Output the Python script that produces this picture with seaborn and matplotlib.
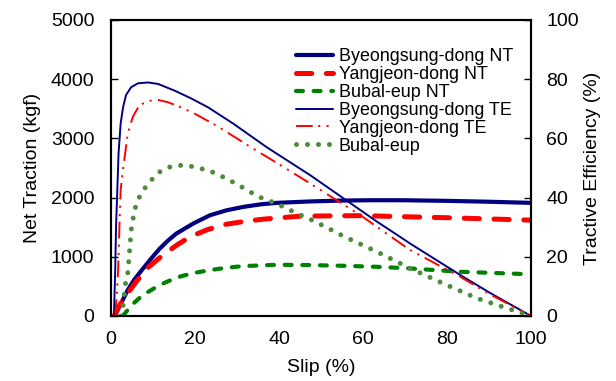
import matplotlib
matplotlib.use("Agg")
import matplotlib.pyplot as plt
import seaborn as sns
import pandas as pd

# ---- data ----
by_nt_slip = [0.9, 2.5, 4.0, 5.5, 7.5, 9.5, 11.5, 13.5, 15.5, 19.6, 23.6, 27.5, 31.5, 35.5,
              39.4, 47.4, 55, 62, 70, 80, 90, 100]
by_nt_val = [0, 230, 440, 610, 790, 965, 1130, 1270, 1390, 1563, 1703, 1785, 1843, 1885,
             1911, 1935, 1950, 1956, 1955, 1945, 1930, 1911]

yj_nt_slip = [0.8, 1.3, 3.5, 6.3, 9.0, 12.2, 15.5, 18.8, 23.0, 27.5, 32.0, 36.3, 45, 52,
              60, 71, 80, 90, 100]
yj_nt_val = [0, 100, 340, 607, 830, 1020, 1190, 1337, 1460, 1551, 1600, 1636, 1686, 1691,
             1695, 1675, 1660, 1640, 1619]

bu_nt_slip = [2.8, 5.0, 7.5, 11.5, 15.6, 19.6, 23.6, 27.5, 31.5, 39.4, 47.4, 55.3, 63.3,
              71.2, 83.1, 100]
bu_nt_val = [0, 190, 350, 520, 650, 725, 776, 815, 843, 865, 860, 848, 831, 804, 747, 705]

by_te_slip = [0.7, 1.0, 1.2, 1.5, 1.8, 2.3, 2.9, 3.6, 4.8, 6.4, 8.8, 11.2, 15.2, 19.1,
              23.1, 29.1, 37.1, 47.4, 55.3, 63.0, 71.2, 83.1, 90, 100]
by_te_val = [0, 15.5, 30, 42.6, 55, 65.1, 70.7, 74.7, 77.3, 78.6, 78.9, 78.4, 76.1, 73.5,
             70.5, 65.0, 57.0, 47.6, 39.8, 32.2, 24.5, 13.9, 8, 0]

yj_te_slip = [1.0, 1.4, 1.7, 2.0, 2.3, 2.9, 4.0, 5.2, 6.8, 9.2, 11.2, 13.6, 16.7, 20.0,
              25.5, 33.1, 41, 47.4, 59.3, 71.2, 83.1, 90, 100]
yj_te_val = [0, 8, 15.5, 30, 42.6, 50, 61.7, 67.3, 71.3, 72.7, 73, 72.2, 70.5, 68.3,
             64.0, 57.2, 50.4, 44.8, 34.1, 22.3, 13.3, 7.5, 0]

bu_te_slip = [2.3, 3.0, 3.3, 4.0, 4.4, 4.8, 5.6, 6.6, 8.0, 9.6, 11.2, 13.6, 16, 18.3, 20.9,
              23.3, 25.7, 30.3, 35.1, 39.4, 44.2, 48.2, 55.3, 63.3, 71.2, 79.1, 87.1, 95, 100]
bu_te_val = [0, 4.4, 9.9, 14.6, 21.7, 29, 35.8, 39.8, 43.1, 45.9, 48.4, 50.2, 50.9, 50.8, 50,
             49.1, 47.7, 44.3, 40.3, 38, 34.7, 32.2, 27, 21.7, 16.1, 11, 6, 2.3, 0]

labels = ["Byeongsung-dong NT", "Yangjeon-dong NT", "Bubal-eup NT",
          "Byeongsung-dong TE", "Yangjeon-dong TE", "Bubal-eup"]

sns.set_theme(style="white")
plt.rcParams["font.family"] = ["Liberation Sans", "DejaVu Sans"]
plt.rcParams["lines.scale_dashes"] = False
plt.rcParams["text.color"] = "black"

fig = plt.figure(figsize=(6.16, 3.81), dpi=100)
ax = fig.add_axes([111 / 616, 1 - 316 / 381, 420 / 616, 296 / 381])
ax2 = ax.twinx()

navy = "#000080"
red = "#FF0000"
green = "#008000"
dotgreen = "#4E8C3C"

sns.lineplot(x=by_nt_slip, y=by_nt_val, ax=ax, color=navy, lw=3.0, label=labels[0],
             legend=False, solid_capstyle="round")
sns.lineplot(x=yj_nt_slip, y=yj_nt_val, ax=ax, color=red, lw=3.6, label=labels[1],
             legend=False, linestyle=(0, (11, 10.5)), dash_capstyle="round")
sns.lineplot(x=bu_nt_slip, y=bu_nt_val, ax=ax, color=green, lw=3.0, label=labels[2],
             legend=False, linestyle=(0, (5, 7.7)), dash_capstyle="round")
sns.lineplot(x=by_te_slip, y=by_te_val, ax=ax2, color=navy, lw=1.4, label=labels[3],
             legend=False)
sns.lineplot(x=yj_te_slip, y=yj_te_val, ax=ax2, color=red, lw=1.4, label=labels[4],
             legend=False, linestyle=(0, (12, 4, 1.5, 4.5, 1.5, 4.5)))
sns.lineplot(x=bu_te_slip, y=bu_te_val, ax=ax2, color=dotgreen, lw=3.6, label=labels[5],
             legend=False, linestyle=(0, (0.01, 7.9)), dash_capstyle="round")

ax.set_xlim(0, 100)
ax.set_ylim(0, 5000)
ax2.set_ylim(0, 100)
ax.set_xticks([0, 20, 40, 60, 80, 100])
ax.set_yticks([0, 1000, 2000, 3000, 4000, 5000])
ax2.set_yticks([0, 20, 40, 60, 80, 100])

fs = 14
ax.tick_params(axis="x", length=0, pad=11, labelsize=fs, colors="black")
ax.tick_params(axis="y", direction="in", length=5, width=1, pad=12, labelsize=fs, colors="black")
ax2.tick_params(axis="y", direction="in", length=5, width=1, pad=11, labelsize=fs, colors="black")

ax.set_xlabel("Slip (%)", fontsize=fs, labelpad=8, color="black")
ax.set_ylabel("Net Traction (kgf)", fontsize=fs, labelpad=7, color="black")
ax2.set_ylabel("Tractive Efficiency (%)", fontsize=fs, labelpad=4, color="black")

for a in (ax, ax2):
    for s in a.spines.values():
        s.set_color("black")
        s.set_linewidth(1.5)

h1, l1 = ax.get_legend_handles_labels()
h2, l2 = ax2.get_legend_handles_labels()
ax2.legend(h1 + h2, l1 + l2, loc="upper left", bbox_to_anchor=(0.44, 0.905),
           frameon=False, fontsize=12.9, handlelength=2.1, handletextpad=0.3,
           labelspacing=0.05, borderpad=0, borderaxespad=0, labelcolor="black")

fig.savefig("out.png", dpi=100)
